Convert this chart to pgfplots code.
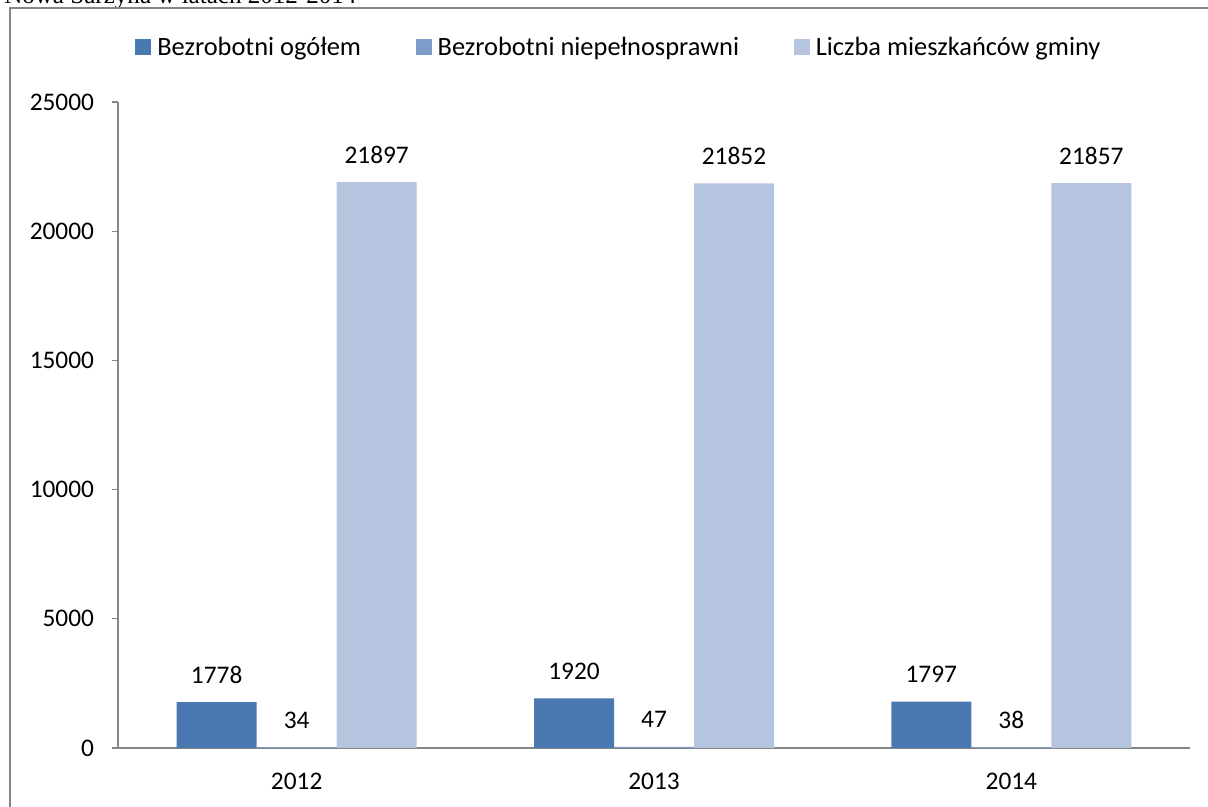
\documentclass[border=0pt]{standalone}
\usepackage{pgfplots}
\pgfplotsset{compat=1.18}
\usepackage{fontspec}
\setmainfont{Carlito}
\newfontfamily\headfont{Liberation Serif}

\definecolor{barA}{RGB}{74,120,176}
\definecolor{barB}{RGB}{126,156,202}
\definecolor{barC}{RGB}{181,197,224}
\definecolor{axisgray}{RGB}{134,134,134}

\newcommand{\lblfont}{\fontsize{19}{23}\selectfont}
\newcommand{\legfont}{\fontsize{19.8}{23}\selectfont}

\begin{document}
\begin{tikzpicture}[x=0.75pt,y=0.75pt]
\useasboundingbox (0,0) rectangle (1208,807);
\clip (0,0) rectangle (1208,807);

% heading line above the chart frame
\node[anchor=base west, inner sep=0pt, font=\headfont\fontsize{18.8}{20}\selectfont] at (4,803) {Nowa Sarzyna w latach 2012-2014};

% chart frame
\draw[axisgray, line width=1.1pt] (10,799) rectangle (1240,-30);

\begin{axis}[
  at={(88.5pt,44.25pt)}, anchor=south west,
  scale only axis, width=804pt, height=484.5pt,
  xmin=-0.5, xmax=2.5, ymin=0, ymax=25000,
  ybar=0pt, bar width=60pt,
  axis lines*=left,
  axis line style={axisgray, line width=1pt},
  every tick/.style={axisgray, line width=1pt},
  tick align=outside,
  major tick length=4.5pt,
  xtick={0,1,2}, xticklabels={2012,2013,2014},
  x tick style={draw=none},
  extra x ticks={-0.5,0.5,1.5,2.5}, extra x tick labels={},
  extra x tick style={x tick style={axisgray, line width=1pt}, major tick length=5.25pt},
  ytick={0,5000,10000,15000,20000,25000},
  scaled ticks=false,
  /pgf/number format/fixed, /pgf/number format/precision=0,
  /pgf/number format/1000 sep={},
  /pgf/number format/assume math mode=true,
  tick label style={font=\lblfont},
  xticklabel style={yshift=-10.5pt},
  yticklabel style={xshift=-10pt},
  nodes near coords,
  nodes near coords style={font=\lblfont, anchor=center, yshift=20.25pt, black},
  legend columns=3,
  legend style={draw=none, fill=none, at={(0.0159,1.0844)}, anchor=west,
    inner sep=0pt, nodes={inner sep=0pt},
    font=\legfont, legend cell align=left,
    /tikz/every odd column/.append style={column sep=4.5pt},
    /tikz/every even column/.append style={column sep=41pt}},
  legend image code/.code={\fill[#1] (0pt,-6pt) rectangle (12pt,6pt);},
]
\addplot[fill=barA, draw=none] coordinates {(0,1778) (1,1920) (2,1797)};
\addlegendentry{Bezrobotni ogółem}
\addplot[fill=barB, draw=none] coordinates {(0,34) (1,47) (2,38)};
\addlegendentry{Bezrobotni niepełnosprawni}
\addplot[fill=barC, draw=none] coordinates {(0,21897) (1,21852) (2,21857)};
\addlegendentry{Liczba mieszkańców gminy}
\end{axis}
\end{tikzpicture}
\end{document}
